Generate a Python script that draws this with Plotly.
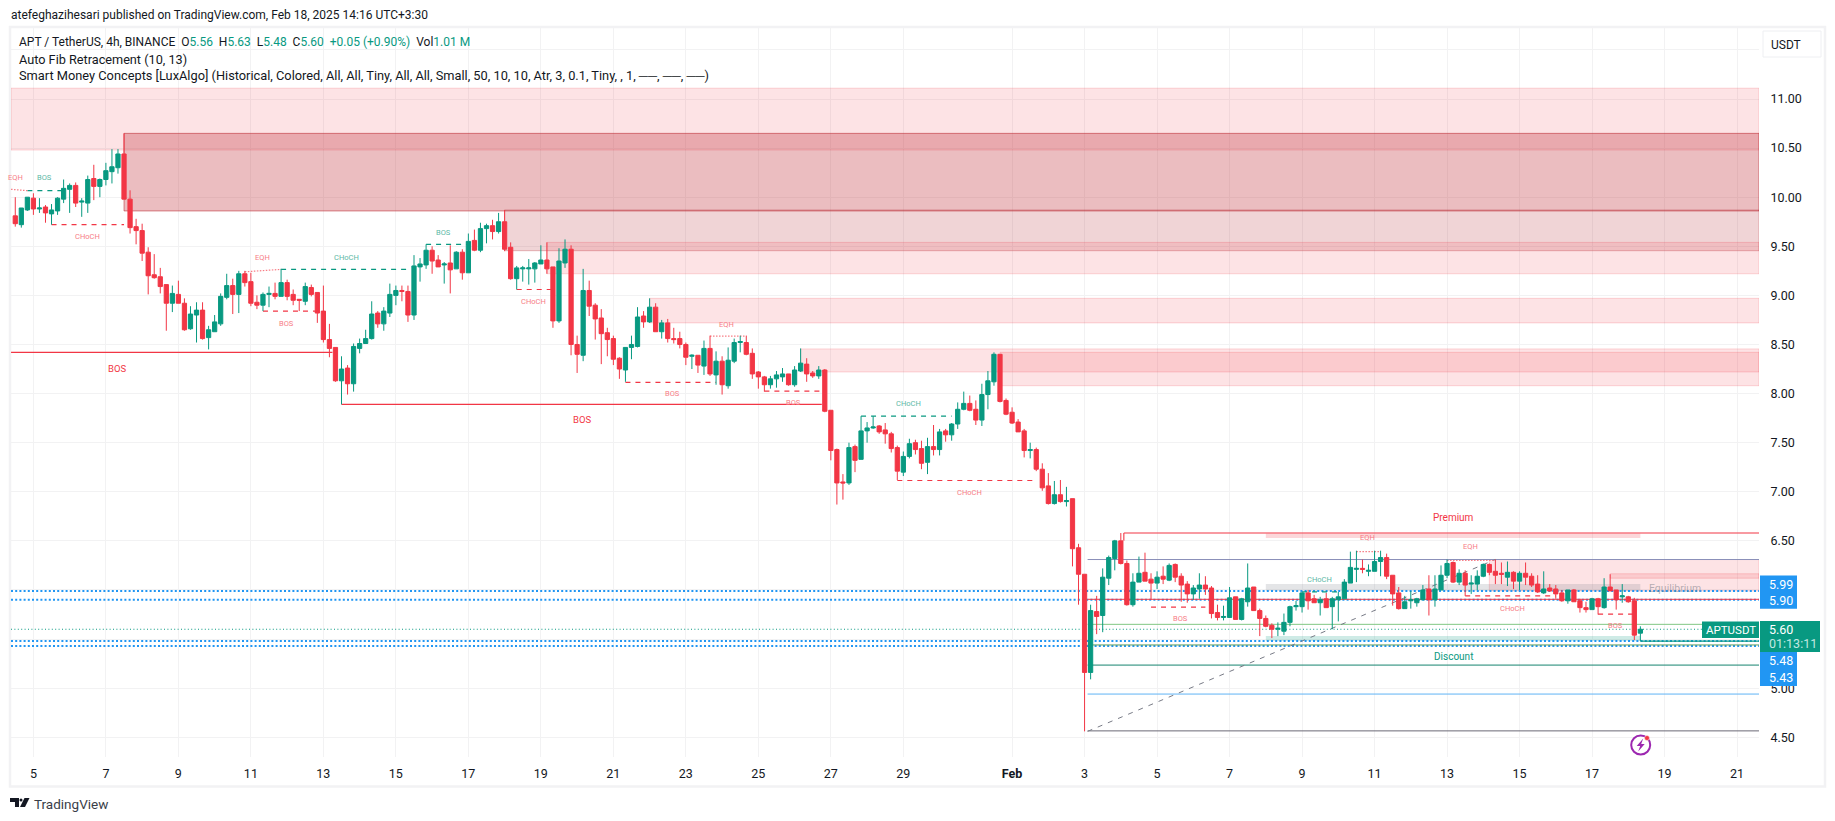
import pandas as pd
import plotly.graph_objects as go

W, H = 1835, 821
FONT = "Roboto"

opens = [9.81,9.72,9.87,9.99,9.88,9.90,9.83,9.86,9.98,10.08,10.12,9.95,9.94,10.19,10.11,10.18,10.26,10.30,10.44,9.98,
9.70,9.66,9.44,9.21,9.19,9.11,8.92,9.01,8.92,8.66,8.80,8.85,8.57,8.63,8.71,8.98,9.10,9.01,9.22,9.14,
8.93,8.90,9.01,9.02,8.99,9.13,9.01,8.96,8.94,9.08,9.03,8.84,8.55,8.47,8.13,8.26,8.10,8.46,8.51,8.56,
8.82,8.71,8.82,9.00,9.05,9.04,8.80,9.29,9.31,9.46,9.36,9.31,9.33,9.27,9.44,9.23,9.56,9.46,9.68,9.71,
9.65,9.75,9.49,9.17,9.27,9.27,9.27,9.32,9.36,9.29,8.74,9.33,9.47,8.50,8.39,9.05,8.90,8.77,8.62,8.56,
8.36,8.24,8.47,8.48,8.79,8.73,8.88,8.63,8.72,8.56,8.56,8.50,8.38,8.39,8.28,8.46,8.19,8.33,8.08,8.33,
8.52,8.52,8.41,8.22,8.17,8.09,8.15,8.17,8.20,8.09,8.23,8.30,8.21,8.18,8.24,7.83,7.43,7.10,7.09,7.46,
7.33,7.62,7.65,7.67,7.63,7.59,7.45,7.20,7.36,7.50,7.44,7.30,7.46,7.43,7.62,7.58,7.69,7.84,7.90,7.84,
7.73,7.99,8.12,8.40,7.93,7.81,7.71,7.62,7.42,7.43,7.23,7.06,6.88,6.97,6.90,6.93,6.43,6.16,5.16,5.78,
5.74,6.12,6.32,6.50,6.27,5.85,6.08,6.18,6.11,6.07,6.14,6.10,6.26,6.14,6.06,5.96,6.01,6.05,6.02,5.77,
5.72,5.72,5.93,5.70,5.88,6.03,5.79,5.71,5.64,5.60,5.58,5.67,5.83,5.83,5.97,5.91,5.87,5.91,5.83,5.90,
5.91,6.07,6.21,6.22,6.19,6.19,6.29,6.33,6.15,5.97,5.81,5.89,5.87,5.90,6.01,5.90,6.00,6.15,6.28,6.08,
6.17,6.06,6.06,6.14,6.26,6.19,6.17,6.13,6.18,6.09,6.17,6.14,6.06,5.97,6.02,6.01,5.97,5.89,6.00,5.89,
5.82,5.80,5.91,5.82,6.03,6.00,5.93,5.93,5.89,5.56]
highs = [10.00,9.89,10.00,10.04,9.99,9.92,9.93,10.00,10.18,10.14,10.15,9.99,10.22,10.33,10.19,10.35,10.49,10.49,10.65,10.07,
9.78,9.73,9.49,9.42,9.28,9.11,9.10,9.15,8.97,8.89,8.93,8.93,8.69,8.80,9.02,9.22,9.17,9.25,9.25,9.23,
9.00,9.03,9.09,9.13,9.27,9.16,9.06,8.96,9.13,9.11,9.03,9.10,8.71,8.47,8.38,8.29,8.51,8.56,8.65,8.94,
8.84,8.88,9.12,9.10,9.10,9.10,9.41,9.38,9.52,9.50,9.41,9.34,9.51,9.45,9.47,9.63,9.67,9.74,9.73,9.77,
9.84,9.87,9.54,9.30,9.30,9.37,9.34,9.51,9.54,9.29,9.48,9.57,9.51,8.59,9.27,9.15,8.92,8.86,8.67,8.59,
8.37,8.47,8.59,8.88,8.84,8.97,8.92,8.75,8.76,8.67,8.63,8.52,8.40,8.39,8.54,8.59,8.43,8.38,8.47,8.56,
8.59,8.59,8.46,8.23,8.18,8.18,8.23,8.26,8.20,8.28,8.46,8.36,8.23,8.28,8.25,7.83,7.44,7.18,7.50,7.48,
7.77,7.71,7.77,7.68,7.70,7.61,7.47,7.41,7.54,7.53,7.52,7.55,7.68,7.64,7.64,7.70,7.91,8.02,7.98,7.93,
8.10,8.23,8.42,8.40,7.95,7.86,7.74,7.64,7.50,7.45,7.29,7.19,7.11,7.12,7.05,6.93,6.47,6.16,5.85,5.94,
6.22,6.35,6.51,6.58,6.30,6.17,6.34,6.38,6.17,6.19,6.24,6.27,6.27,6.17,6.09,6.05,6.17,6.14,6.04,5.85,
5.84,6.03,5.93,5.92,6.27,6.03,5.81,5.74,5.66,5.67,5.76,5.84,5.89,5.98,6.00,5.95,5.93,5.97,5.93,5.98,
6.11,6.39,6.40,6.31,6.26,6.40,6.40,6.37,6.15,6.03,5.94,5.99,5.92,6.05,6.15,6.15,6.25,6.31,6.29,6.21,
6.20,6.15,6.20,6.27,6.27,6.31,6.28,6.29,6.19,6.19,6.28,6.17,6.15,6.19,6.06,6.05,6.00,6.00,6.01,5.91,
5.88,5.92,5.92,6.12,6.16,6.00,6.06,5.94,5.92,5.63]
lows = [9.70,9.69,9.86,9.82,9.84,9.74,9.72,9.82,9.94,9.84,9.90,9.80,9.84,9.97,10.00,10.12,10.14,10.24,9.98,9.63,
9.52,9.35,9.01,9.17,9.02,8.64,8.83,8.92,8.64,8.65,8.52,8.55,8.45,8.63,8.69,8.96,8.81,8.82,9.09,8.89,
8.86,8.84,8.88,8.96,8.99,8.95,8.90,8.84,8.90,8.99,8.72,8.52,8.37,8.12,7.89,7.99,8.02,8.41,8.51,8.55,
8.67,8.64,8.78,8.90,8.94,8.73,8.75,9.14,9.27,9.22,9.29,9.12,9.02,9.27,9.16,9.23,9.45,9.44,9.53,9.57,
9.63,9.45,9.16,9.06,9.14,9.11,9.13,9.32,9.22,8.67,8.72,9.28,8.39,8.21,8.33,8.79,8.55,8.30,8.38,8.29,
8.15,8.12,8.35,8.47,8.67,8.72,8.63,8.56,8.52,8.51,8.46,8.29,8.25,8.21,8.19,8.18,8.09,7.99,8.05,8.31,
8.42,8.39,8.15,8.05,8.02,8.05,8.06,8.12,8.08,8.07,8.22,8.12,8.16,8.15,7.81,7.32,6.87,6.92,7.07,7.20,
7.33,7.50,7.64,7.59,7.49,7.40,7.12,7.16,7.34,7.38,7.23,7.18,7.37,7.37,7.51,7.52,7.64,7.83,7.82,7.68,
7.67,7.84,8.08,7.91,7.78,7.69,7.61,7.35,7.34,7.21,7.01,6.87,6.87,6.89,6.85,6.24,5.85,4.56,5.09,5.55,
5.57,6.05,6.20,6.26,5.84,5.83,6.08,6.09,5.90,6.01,6.06,6.09,6.08,5.88,5.87,5.90,5.91,5.95,5.71,5.69,
5.69,5.72,5.70,5.69,5.83,5.79,5.53,5.62,5.51,5.53,5.54,5.63,5.79,5.77,5.80,5.87,5.74,5.82,5.60,5.68,
5.91,6.07,6.08,6.17,6.14,6.19,6.14,6.11,5.84,5.80,5.81,5.81,5.83,5.90,5.74,5.83,6.00,6.12,6.07,6.05,
5.94,5.96,6.00,6.13,6.15,6.06,6.06,6.04,6.01,6.00,6.05,6.03,5.97,5.96,5.98,5.91,5.88,5.86,5.88,5.77,
5.77,5.80,5.75,5.81,5.99,5.80,5.87,5.87,5.49,5.48]
closes = [9.73,9.89,10.00,9.88,9.89,9.84,9.87,9.99,10.09,10.12,9.94,9.96,10.18,10.11,10.18,10.27,10.31,10.44,9.98,9.69,
9.66,9.43,9.20,9.18,9.09,8.92,9.02,8.92,8.65,8.81,8.85,8.56,8.65,8.73,8.99,9.10,9.01,9.22,9.13,8.92,
8.90,9.01,9.02,8.99,9.13,8.99,8.95,8.95,9.09,9.01,8.82,8.55,8.46,8.13,8.25,8.10,8.48,8.51,8.56,8.81,
8.71,8.84,9.01,9.05,9.04,8.80,9.30,9.32,9.46,9.35,9.29,9.32,9.26,9.44,9.23,9.55,9.46,9.68,9.71,9.65,
9.75,9.47,9.17,9.28,9.28,9.28,9.33,9.36,9.27,8.74,9.35,9.47,8.50,8.40,9.05,8.89,8.76,8.61,8.55,8.35,
8.25,8.47,8.50,8.78,8.73,8.88,8.63,8.72,8.56,8.55,8.50,8.37,8.39,8.29,8.46,8.20,8.33,8.09,8.34,8.52,
8.53,8.40,8.20,8.17,8.09,8.15,8.19,8.20,8.09,8.24,8.31,8.20,8.18,8.24,7.82,7.42,7.09,7.09,7.45,7.32,
7.62,7.65,7.66,7.61,7.59,7.44,7.21,7.36,7.49,7.43,7.29,7.46,7.43,7.61,7.58,7.69,7.84,7.90,7.83,7.73,
7.99,8.13,8.40,7.92,7.79,7.70,7.61,7.42,7.43,7.23,7.04,6.88,6.97,6.90,6.91,6.42,6.16,5.16,5.79,5.73,
6.13,6.33,6.50,6.27,5.85,6.08,6.17,6.09,6.07,6.13,6.11,6.25,6.13,6.05,5.96,6.02,6.05,6.01,5.76,5.72,
5.73,5.92,5.70,5.91,6.02,5.79,5.71,5.63,5.60,5.61,5.67,5.83,5.84,5.97,5.89,5.87,5.90,5.82,5.91,5.93,
6.08,6.23,6.22,6.21,6.20,6.29,6.33,6.14,5.96,5.81,5.88,5.90,5.91,6.00,5.90,6.01,6.15,6.27,6.08,6.17,
6.05,6.07,6.14,6.26,6.18,6.15,6.16,6.18,6.09,6.17,6.13,6.05,5.98,6.01,5.99,5.96,5.89,6.00,5.88,5.82,
5.80,5.91,5.83,6.03,5.99,5.90,5.94,5.88,5.54,5.60]

bar_times = pd.date_range("2025-01-04 12:00", periods=len(closes), freq="4h")
axis_start = pd.Timestamp("2025-01-04 09:10")
axis_end = pd.Timestamp("2025-02-21 14:33")

price_ticks = [4.5, 5.0, 5.5, 6.0, 6.5, 7.0, 7.5, 8.0, 8.5, 9.0, 9.5, 10.0, 10.5, 11.0, 11.5]
price_tick_labels = ["4.50", "5.00", "", "", "6.50", "7.00", "7.50", "8.00", "8.50", "9.00", "9.50", "10.00", "10.50", "11.00", ""]
date_ticks = ["2025-01-05","2025-01-07","2025-01-09","2025-01-11","2025-01-13","2025-01-15","2025-01-17","2025-01-19",
              "2025-01-21","2025-01-23","2025-01-25","2025-01-27","2025-01-29","2025-02-01","2025-02-03","2025-02-05",
              "2025-02-07","2025-02-09","2025-02-11","2025-02-13","2025-02-15","2025-02-17","2025-02-19","2025-02-21"]
date_tick_labels = ["5","7","9","11","13","15","17","19","21","23","25","27","29","<b>Feb</b>","3","5","7","9","11","13","15","17","19","21"]

zone_start = [None, 18, 81, 88, 105, 130, 163, 244, 264]
zone_top = [11.11, 10.65, 9.87, 9.54, 8.97, 8.455, 8.42, 6.31, 6.165]
zone_bottom = [10.48, 9.86, 9.455, 9.22, 8.72, 8.22, 8.08, 5.99, 6.12]
zone_kind = ["pale", "dark", "mid", "pale", "pale", "pale", "pale", "pale", "pale"]

band_start = [207, 207, 207]
band_end = [269, 269, 269]
band_top = [6.575, 6.06, 5.53]
band_bottom = [6.53, 5.99, 5.48]
band_kind = ["premium", "equilibrium", "discount"]

struct_start = [2, 6, 44, 41, 68, 83, 101, 124, 140, 146, 188, 213, 262, 240]
struct_end = [8, 18, 65, 50, 75, 89, 116, 134, 155, 169, 197, 220, 268, 255]
struct_price = [10.066, 9.72, 9.265, 8.84, 9.52, 9.06, 8.115, 8.025, 7.77, 7.115, 5.825, 5.98, 5.755, 5.94]
struct_colour = ["g", "r", "g", "r", "g", "r", "r", "r", "g", "r", "r", "g", "r", "r"]
struct_label = ["BOS", "CHoCH", "CHoCH", "BOS", "BOS", "CHoCH", "BOS", "BOS", "CHoCH", "CHoCH", "BOS", "CHoCH", "BOS", "CHoCH"]
struct_label_bar = [4.9, 11.9, 54.8, 44.9, 70.8, 85.8, 108.8, 128.8, 147.8, 157.9, 192.8, 215.9, 264.9, 247.8]
struct_label_price = [10.20, 9.60, 9.39, 8.716, 9.64, 8.936, 8.003, 7.91, 7.90, 6.995, 5.71, 6.11, 5.64, 5.81]

eqh_start = [-0.7, 38, 115, 222, 237]
eqh_end = [2, 44, 121, 226, 245]
eqh_price_a = [10.08, 9.24, 8.585, 6.39, 6.30]
eqh_price_b = [10.066, 9.265, 8.585, 6.39, 6.30]
eqh_label_bar = [0.1, 41, 117.8, 223.8, 240.8]
eqh_label_price = [10.20, 9.39, 8.706, 6.53, 6.44]

swing_start = [-0.7, 54]
swing_end = [52.5, 133.5]
swing_price = [8.42, 7.89]
swing_label_bar = [16.9, 93.8]
swing_label_price = [8.26, 7.74]

fib_levels = [6.31, 5.905, 5.65, 5.44, 5.235, 4.94, 4.565]
fib_colours = ["#8a8fb8", "#f23645", "#81c784", "#5f9e5a", "#15846f", "#5fb3f5", "#6b6875"]
fib_start_bar = 177.5
fib_anchor_low = 4.56
fib_anchor_high = 6.31
fib_anchor_end_bar = 245
premium_line = 6.58
premium_start_bar = 183.5

price_lines = [5.99, 5.90, 5.48, 5.43]
last_price = 5.60
last_low = 5.48

RED, GREEN = "#f23645", "#089981"
LRED, LGREEN = "#f77c85", "#5cb8a6"


def bt(i):
    return bar_times[0] + pd.to_timedelta(i * 4, unit="h")


def px(x):
    return x / W


def py(y):
    return 1 - y / H


fig = go.Figure()
fig.add_trace(go.Candlestick(
    x=bar_times, open=opens, high=highs, low=lows, close=closes,
    increasing=dict(line=dict(color=GREEN, width=1), fillcolor=GREEN),
    decreasing=dict(line=dict(color=RED, width=1), fillcolor=RED),
    whiskerwidth=0, showlegend=False, hoverinfo="skip"))

shapes, ann = [], []


def hline(x0, x1, y0, y1=None, color=RED, width=1, dash="solid", layer="between"):
    shapes.append(dict(type="line", xref="x", yref="y", x0=x0, x1=x1, y0=y0, y1=y0 if y1 is None else y1,
                       line=dict(color=color, width=width, dash=dash), layer=layer))


def label(x, y, text, color, size=7.5):
    ann.append(dict(xref="x", yref="y", x=x, y=y, text=text, showarrow=False,
                    font=dict(family=FONT, size=size, color=color), xanchor="center", yanchor="middle"))


def ptext(x, y, text, color="#131722", size=12, anchor="left"):
    ann.append(dict(xref="paper", yref="paper", x=px(x), y=py(y), text=text, showarrow=False,
                    font=dict(family=FONT, size=size, color=color), xanchor=anchor, yanchor="middle",
                    borderpad=0))


def prect(x0, y0, x1, y1, fill, line=None, width=0, layer="above"):
    shapes.append(dict(type="rect", xref="paper", yref="paper", x0=px(x0), x1=px(x1), y0=py(y0), y1=py(y1),
                       fillcolor=fill, line=dict(color=line or fill, width=width), layer=layer))


kinds = {"pale": ("rgba(242,54,69,0.14)", "rgba(242,54,69,0.19)"),
         "dark": ("rgba(188,38,48,0.3)", "rgba(188,38,48,0.55)"),
         "mid": ("rgba(178,40,51,0.2)", "rgba(178,40,51,0.3)"),
         "premium": ("rgba(242,54,69,0.2)", "rgba(0,0,0,0)"),
         "equilibrium": ("rgba(120,123,134,0.2)", "rgba(0,0,0,0)"),
         "discount": ("rgba(8,153,129,0.2)", "rgba(0,0,0,0)")}

for s, t, b, k in zip(zone_start, zone_top, zone_bottom, zone_kind):
    f, l = kinds[k]
    shapes.append(dict(type="rect", xref="x", yref="y", x0=axis_start if s is None else bt(s), x1=axis_end,
                       y0=b, y1=t, fillcolor=f, line=dict(color=l, width=1), layer="between"))
for s, e, t, b, k in zip(band_start, band_end, band_top, band_bottom, band_kind):
    f, l = kinds[k]
    shapes.append(dict(type="rect", xref="x", yref="y", x0=bt(s), x1=bt(e), y0=b, y1=t, fillcolor=f,
                       line=dict(color=l, width=0), layer="between"))

for lv in price_lines:
    hline(axis_start, axis_end, lv, color="#2196f3", width=2, dash="2px,2.2px")
hline(axis_start, axis_end, last_price, color=GREEN, width=1, dash="1px,2.4px")
hline(bt(269), axis_end, last_low, color=GREEN, width=1.2)

for lv, c in zip(fib_levels, fib_colours):
    hline(bt(fib_start_bar), axis_end, lv, color=c, width=1)
hline(bt(fib_start_bar), bt(fib_anchor_end_bar), fib_anchor_low, fib_anchor_high, color="#787b86", width=1, dash="5px,6px")
hline(bt(premium_start_bar), axis_end, premium_line, color=RED, width=1.1)
shapes.append(dict(type="line", xref="x", yref="y", x0=bt(premium_start_bar), x1=bt(premium_start_bar), y0=premium_line,
                   y1=6.5, line=dict(color=RED, width=1.1), layer="between"))

for s, e, p, c, t, lb, lp in zip(struct_start, struct_end, struct_price, struct_colour, struct_label, struct_label_bar, struct_label_price):
    hline(bt(s), bt(e), p, color=RED if c == "r" else GREEN, width=1.2, dash="5px,5px")
    label(bt(lb), lp, t, LRED if c == "r" else LGREEN)
for s, e, a, b, lb, lp in zip(eqh_start, eqh_end, eqh_price_a, eqh_price_b, eqh_label_bar, eqh_label_price):
    hline(bt(s), bt(e), a, b, color=LRED, width=1.2, dash="1.5px,1.5px")
    label(bt(lb), lp, "EQH", LRED)
for s, e, p, lb, lp in zip(swing_start, swing_end, swing_price, swing_label_bar, swing_label_price):
    hline(bt(s), bt(e), p, color=RED, width=1.2)
    label(bt(lb), lp, "BOS", RED, size=9.5)

label(bt(238), 6.735, "Premium", RED, size=10)
label(bt(238), 5.32, "Discount", GREEN, size=10)
label(bt(274.8), 6.02, "Equilibrium", "rgba(120,123,134,0.55)", size=10.5)

ptext(10, 15, "atefeghazihesari published on TradingView.com, Feb 18, 2025 14:16 UTC+3:30")
v = lambda s: f'<span style="color:{GREEN}">{s}</span>'
ptext(18, 41.5, f'APT / TetherUS, 4h, BINANCE  O{v("5.56")}  H{v("5.63")}  L{v("5.48")}  C{v("5.60")}  {v("+0.05 (+0.90%)")}  Vol{v("1.01 M")}')
ptext(18, 59, "Auto Fib Retracement (10, 13)", size=12.7)
ptext(18, 76, "Smart Money Concepts [LuxAlgo] (Historical, Colored, All, All, Tiny, All, All, Small, 50, 10, 10, Atr, 3, 0.1, Tiny, , 1, ──, ──, ──)", size=12.8)

shapes.append(dict(type="rect", xref="paper", yref="paper", x0=px(10), x1=px(1825), y0=py(786.5), y1=py(27),
                   line=dict(color="#f2f2f4", width=2.5), fillcolor="rgba(0,0,0,0)", layer="below"))

bx0, bx1, by0, by1 = px(1763), px(1821), py(57), py(31)
shapes.append(dict(type="rect", xref="paper", yref="paper", x0=bx0, x1=bx1, y0=by0, y1=by1,
                   line=dict(color="#eeeff2", width=1), fillcolor="white", layer="above"))
ptext(1786, 44.5, "USDT", anchor="center")

prect(1760, 575.5, 1797, 608.7, "#2196f3")
ptext(1768, 584, "5.99", "white", 12.5)
ptext(1768, 600.5, "5.90", "white", 12.5)
prect(1760, 651.5, 1797, 686, "#2196f3")
ptext(1768, 660.5, "5.48", "white", 12.5)
ptext(1768, 677.5, "5.43", "white", 12.5)
prect(1760, 621, 1820, 652, GREEN)
ptext(1768, 629.5, "5.60", "white", 12.5)
ptext(1768, 643.5, "01:13:11", "#c3e8e1", 12.5)
prect(1702, 621.5, 1759, 638, GREEN)
ptext(1730.5, 629.5, "APTUSDT", "white", 11.5, anchor="center")

cx, cy = 1640.7, 745
shapes.append(dict(type="circle", xref="paper", yref="paper", x0=px(cx - 9.5), x1=px(cx + 9.5), y0=py(cy + 9.5), y1=py(cy - 9.5),
                   line=dict(color="#9c27b0", width=2), fillcolor="white", layer="above"))
bolt = [(2.5, -6.5), (-4, 1), (-0.5, 1), (-2.5, 6.5), (4, -1), (0.5, -1)]
shapes.append(dict(type="path", xref="paper", yref="paper",
                   path="M" + " L".join(f"{px(cx + a):.5f},{py(cy + b):.5f}" for a, b in bolt) + " Z",
                   fillcolor="#9c27b0", line=dict(width=0), layer="above"))
shapes.append(dict(type="circle", xref="paper", yref="paper", x0=px(1644.5), x1=px(1649.5), y0=py(740.5), y1=py(735.5),
                   fillcolor=RED, line=dict(color="white", width=0.5), layer="above"))

for poly in ([(10, 798), (19, 798), (19, 807), (15, 807), (15, 802), (10, 802)],
             [(24.5, 798), (29.5, 798), (25, 807), (20, 807)]):
    shapes.append(dict(type="path", xref="paper", yref="paper",
                       path="M" + " L".join(f"{px(a):.5f},{py(b):.5f}" for a, b in poly) + " Z",
                       fillcolor="#131722", line=dict(width=0), layer="above"))
shapes.append(dict(type="circle", xref="paper", yref="paper", x0=px(19.5), x1=px(22.5), y0=py(801.5), y1=py(798.5),
                   fillcolor="#131722", line=dict(width=0), layer="above"))
ptext(33, 803.5, "TradingView", "#3a3e48", 13.5)

GRID = "#f2f2f3"
fig.update_layout(
    width=W, height=H, margin=dict(l=0, r=0, t=0, b=0), paper_bgcolor="white", plot_bgcolor="white",
    showlegend=False, boxgap=0.3, boxgroupgap=0, shapes=shapes, annotations=ann, font=dict(family=FONT, color="#131722"),
    xaxis=dict(domain=[px(11), px(1759)], range=[axis_start, axis_end], type="date", tickmode="array",
               tickvals=date_ticks, ticktext=date_tick_labels, showgrid=True, gridcolor=GRID, gridwidth=1,
               rangeslider=dict(visible=False), zeroline=False, showline=False, ticks="outside", ticklen=5,
               tickcolor="rgba(0,0,0,0)", tickfont=dict(size=12.5, family=FONT, color="#131722"), fixedrange=True),
    yaxis=dict(domain=[py(757), py(28)], range=[4.299, 11.723], side="right", tickmode="array", tickvals=price_ticks,
               ticktext=price_tick_labels, showgrid=True, gridcolor=GRID, gridwidth=1, zeroline=False, showline=False,
               ticks="outside", ticklen=8, tickcolor="rgba(0,0,0,0)", tickfont=dict(size=12.5, family=FONT, color="#131722"),
               fixedrange=True),
)
fig.write_html("out.html", config=dict(displayModeBar=False),
               post_script="document.body.style.margin='0';document.body.style.overflow='hidden';")
